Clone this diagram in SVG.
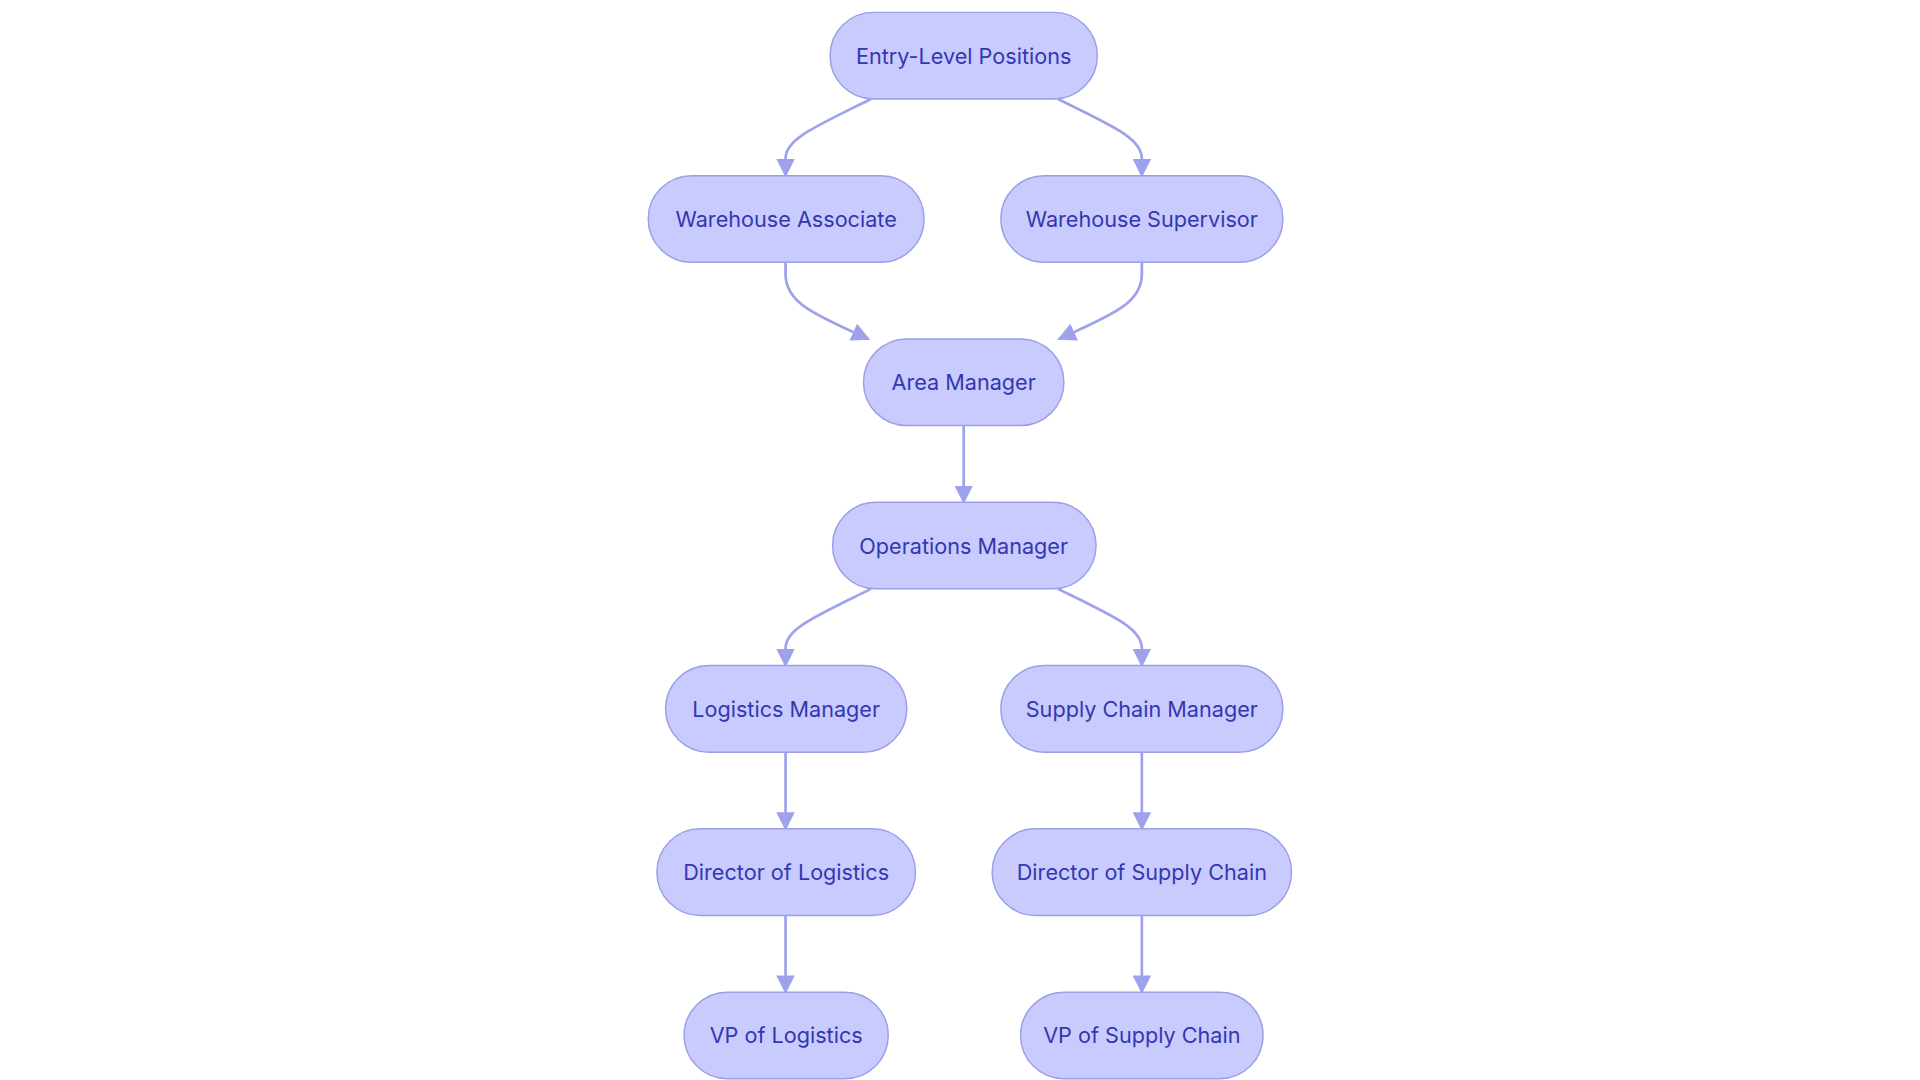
<svg xmlns="http://www.w3.org/2000/svg" width="1920" height="1080" viewBox="0 0 1920 1080">
<style>
.n rect{fill:#c9cbff;stroke:#9b9fe6;stroke-width:1.2}
.n text{font-family:Inter,"Noto Sans",sans-serif;font-size:17.5px;fill:#3337b0;text-anchor:middle;dominant-baseline:central}
.e path{fill:none;stroke:#9ea2ec;stroke-width:2.2}
</style>
<defs><marker id="a" viewBox="0 0 10 10" refX="10" refY="5" markerWidth="7" markerHeight="7" markerUnits="userSpaceOnUse" orient="auto"><path d="M0,0L10,5L0,10z" fill="#9ea2ec"/></marker></defs>
<rect width="1920" height="1080" fill="#fff"/>
<g transform="scale(1.2371)">
<g class="e">
<path marker-end="url(#a)" transform="scale(1)" d="M704,80C660,102 635,112 635,128L635,142" style="marker-end:url(#m)"/>
</g>
</g>
<defs><marker id="m" viewBox="0 0 10 10" refX="9" refY="5" markerWidth="15" markerHeight="15" markerUnits="userSpaceOnUse" orient="auto"><path d="M0,0L10,5L0,10z" fill="#9ea2ec"/></marker></defs>
<g transform="scale(1.2371)">
<g class="e" id="connectors">
<path style="marker-end:url(#m)" d="M855,80C900,102 923,112 923,128L923,142"/>
<path style="marker-end:url(#m)" d="M635,212L635,222C635,245 660,255 702,274"/>
<path style="marker-end:url(#m)" d="M923,212L923,222C923,245 898,255 856,274"/>
<path style="marker-end:url(#m)" d="M779,344L779,406"/>
<path style="marker-end:url(#m)" d="M704,476C660,498 635,508 635,524L635,538"/>
<path style="marker-end:url(#m)" d="M855,476C900,498 923,508 923,524L923,538"/>
<path style="marker-end:url(#m)" d="M635,608L635,670"/>
<path style="marker-end:url(#m)" d="M923,608L923,670"/>
<path style="marker-end:url(#m)" d="M635,740L635,802"/>
<path style="marker-end:url(#m)" d="M923,740L923,802"/>
</g>
<g class="n" id="entry"><rect x="671" y="10" width="216" height="70" rx="35"/><text x="779" y="45">Entry-Level Positions</text></g>
<g class="n" id="wa"><rect x="524" y="142" width="223" height="70" rx="35"/><text x="635.5" y="177">Warehouse Associate</text></g>
<g class="n" id="ws"><rect x="809" y="142" width="228" height="70" rx="35"/><text x="923" y="177">Warehouse Supervisor</text></g>
<g class="n" id="am"><rect x="698" y="274" width="162" height="70" rx="35"/><text x="779" y="309">Area Manager</text></g>
<g class="n" id="om"><rect x="673" y="406" width="213" height="70" rx="35"/><text x="779" y="441">Operations Manager</text></g>
<g class="n" id="lm"><rect x="538" y="538" width="195" height="70" rx="35"/><text x="635.5" y="573">Logistics Manager</text></g>
<g class="n" id="scm"><rect x="809" y="538" width="228" height="70" rx="35"/><text x="923" y="573">Supply Chain Manager</text></g>
<g class="n" id="dl"><rect x="531" y="670" width="209" height="70" rx="35"/><text x="635.5" y="705">Director of Logistics</text></g>
<g class="n" id="dsc"><rect x="802" y="670" width="242" height="70" rx="35"/><text x="923" y="705">Director of Supply Chain</text></g>
<g class="n" id="vpl"><rect x="553" y="802" width="165" height="70" rx="35"/><text x="635.5" y="837">VP of Logistics</text></g>
<g class="n" id="vpsc"><rect x="825" y="802" width="196" height="70" rx="35"/><text x="923" y="837">VP of Supply Chain</text></g>
</g>
</svg>
